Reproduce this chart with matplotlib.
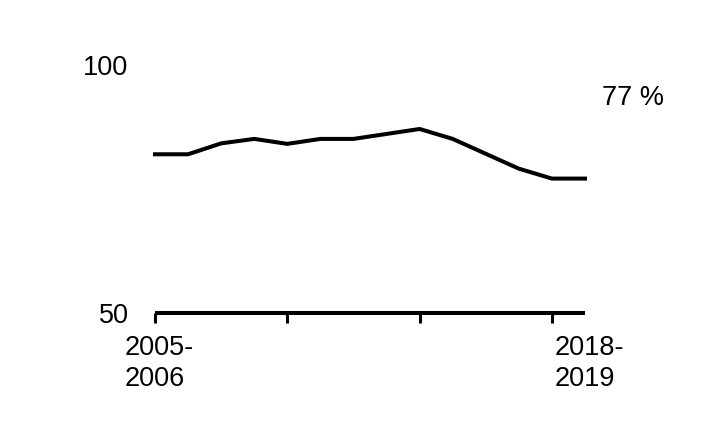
import matplotlib
matplotlib.use("Agg")
import matplotlib.pyplot as plt
from matplotlib.transforms import ScaledTranslation

plt.rcParams['font.family'] = ['Liberation Sans', 'DejaVu Sans']

years = ["2005-2006", "2006-2007", "2007-2008", "2008-2009", "2009-2010", "2010-2011",
         "2011-2012", "2012-2013", "2013-2014", "2014-2015", "2015-2016", "2016-2017",
         "2017-2018", "2018-2019"]
values = [82, 82, 84.2, 85.1, 84.1, 85.1, 85.1, 86.1, 87.1, 85.1, 82.1, 79.1, 77.1, 77.1]
tick_positions = [0, 4, 8, 12]
label_positions = [0, 13]
y_ticks = [50, 100]
end_label = "77 %"

FS = 19.5
W, H = 707, 422
fig = plt.figure(figsize=(W / 100, H / 100), dpi=100)
ax = fig.add_axes([155 / W, (H - 313) / H, (585 - 155) / W, (313 - 65) / H])

x = list(range(len(values)))
ax.plot(x, values, color='black', lw=2.9, solid_joinstyle='miter', clip_on=False)

ax.set_xlim(0, len(values) - 1)
ax.set_ylim(50, 100)

for s in ['top', 'right', 'left']:
    ax.spines[s].set_visible(False)
ax.spines['bottom'].set_linewidth(2.9)
ax.spines['bottom'].set_capstyle('butt')

ax.xaxis.remove_overlapping_locs = False
ax.set_xticks(tick_positions)
ax.set_xticklabels([''] * len(tick_positions))
ax.tick_params(axis='x', which='major', direction='out', length=7, width=2.2, color='black')
ax.set_xticks(label_positions, minor=True)
ax.set_xticklabels([years[i].replace('-', '-\n') for i in label_positions], minor=True)
ax.tick_params(axis='x', which='minor', length=0, pad=16, labelsize=FS)
shift = ScaledTranslation(4 / 100, 0, fig.dpi_scale_trans)
for t in ax.get_xticklabels(minor=True):
    t.set_multialignment('left')
    t.set_linespacing(1.26)
    t.set_transform(t.get_transform() + shift)

ax.set_yticks(y_ticks)
ax.set_yticklabels([str(v) for v in y_ticks])
ax.tick_params(axis='y', length=0, pad=19, labelsize=FS)

ax.text(13.5, 93.3, end_label, fontsize=FS, ha='left', va='center', clip_on=False)

fig.savefig('out.png', dpi=100)
